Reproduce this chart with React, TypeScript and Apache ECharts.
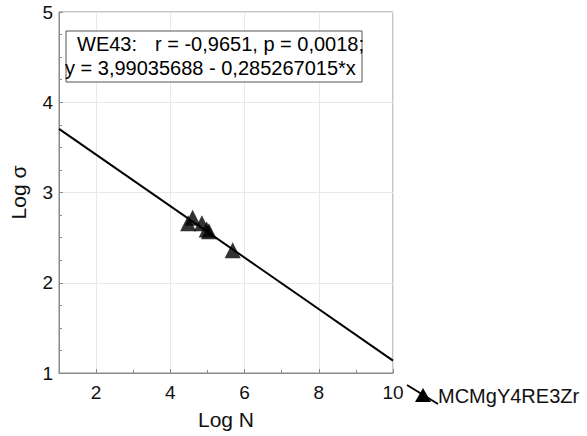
import React, { useEffect, useRef } from "react";
import * as echarts from "echarts";

const logN = [4.48, 4.6, 4.85, 4.98, 5.04, 5.68];
const logSigma = [2.66, 2.72, 2.66, 2.59, 2.57, 2.36];
const intercept = 3.99035688;
const slope = -0.285267015;
const xRange = [1, 10];
const yRange = [1, 5];
const xMajorTicks = [2, 4, 6, 8, 10];
const xMinorTicks = [3, 5, 7, 9];
const statLabel = "WE43:";
const statLine1 = "r = -0,9651, p = 0,0018;";
const statLine2 = "y = 3,99035688 - 0,285267015*x";
const seriesName = "MCMgY4RE3Zr";

const FONT = "'Liberation Sans', Arial, sans-serif";

export default function App() {
  const ref = useRef<HTMLDivElement>(null);
  useEffect(() => {
    if (!ref.current) return;
    const chart = echarts.init(ref.current, null, { renderer: "svg" });
    const fitLine = xRange.map((x) => [x, intercept + slope * x]);
    const axisGrey = "#8a8a8a";
    chart.setOption({
      animation: false,
      backgroundColor: "#fff",
      grid: {
        left: 58,
        right: 194,
        top: 12,
        bottom: 63,
        show: true,
        borderColor: axisGrey,
        borderWidth: 1,
      },
      xAxis: [
        {
          type: "value",
          min: xRange[0],
          max: xRange[1],
          name: "Log N",
          nameLocation: "middle",
          nameGap: 36,
          nameTextStyle: { fontFamily: FONT, fontSize: 21, color: "#111" },
          axisLine: { show: true, lineStyle: { color: axisGrey } },
          axisTick: { show: true, inside: true, length: 4, customValues: xMajorTicks, lineStyle: { color: axisGrey } },
          axisLabel: { customValues: xMajorTicks, margin: 10, fontFamily: FONT, fontSize: 19, color: "#111" },
          splitLine: { show: true, lineStyle: { color: "#e8e8e8" } },
        },
        {
          type: "value",
          min: xRange[0],
          max: xRange[1],
          position: "bottom",
          axisLine: { show: false },
          axisTick: { show: true, inside: true, length: 3, customValues: xMinorTicks, lineStyle: { color: axisGrey } },
          axisLabel: { show: false },
          splitLine: { show: false },
        },
      ],
      yAxis: {
        type: "value",
        min: yRange[0],
        max: yRange[1],
        interval: 1,
        name: "Log σ",
        nameLocation: "middle",
        nameGap: 30,
        nameRotate: 90,
        nameTextStyle: { fontFamily: FONT, fontSize: 21, color: "#111" },
        axisLine: { show: true, lineStyle: { color: axisGrey } },
        axisTick: { show: true, inside: true, length: 4, lineStyle: { color: axisGrey } },
        minorTick: { show: true, splitNumber: 4, length: 3, lineStyle: { color: axisGrey } },
        axisLabel: { margin: 6, fontFamily: FONT, fontSize: 19, color: "#111" },
        splitLine: { show: true, lineStyle: { color: "#e8e8e8" } },
      },
      series: [
        {
          type: "line",
          data: fitLine,
          symbol: "none",
          lineStyle: { color: "#000", width: 2 },
          z: 3,
        },
        {
          type: "scatter",
          name: seriesName,
          data: logN.map((x, i) => [x, logSigma[i]]),
          symbol: "triangle",
          symbolSize: 16,
          itemStyle: { color: "#000" },
          z: 4,
        },
      ],
      graphic: [
        {
          type: "rect",
          shape: { x: 66, y: 31, width: 296, height: 51 },
          style: { fill: "#fff", stroke: "#555", lineWidth: 1 },
          z: 10,
        },
        {
          type: "text",
          x: 77,
          y: 44,
          style: { text: statLabel, font: `20px ${FONT}`, fill: "#000", verticalAlign: "middle" },
          z: 11,
        },
        {
          type: "text",
          x: 155,
          y: 44,
          style: { text: statLine1, font: `20px ${FONT}`, fill: "#000", verticalAlign: "middle" },
          z: 11,
        },
        {
          type: "text",
          x: 65,
          y: 68,
          style: { text: statLine2, font: `20px ${FONT}`, fill: "#000", verticalAlign: "middle" },
          z: 11,
        },
        {
          type: "line",
          shape: { x1: 407, y1: 385, x2: 438, y2: 404 },
          style: { stroke: "#000", lineWidth: 2 },
          z: 10,
        },
        {
          type: "polygon",
          shape: { points: [[423, 388], [415, 402], [431, 402]] },
          style: { fill: "#000" },
          z: 11,
        },
        {
          type: "text",
          x: 438,
          y: 396,
          style: { text: seriesName, font: `20px ${FONT}`, fill: "#111", verticalAlign: "middle" },
          z: 11,
        },
      ],
    });
    return () => chart.dispose();
  }, []);
  return (
    <div
      ref={ref}
      style={{ position: "fixed", left: 0, top: 0, width: 587, height: 436 }}
    />
  );
}
